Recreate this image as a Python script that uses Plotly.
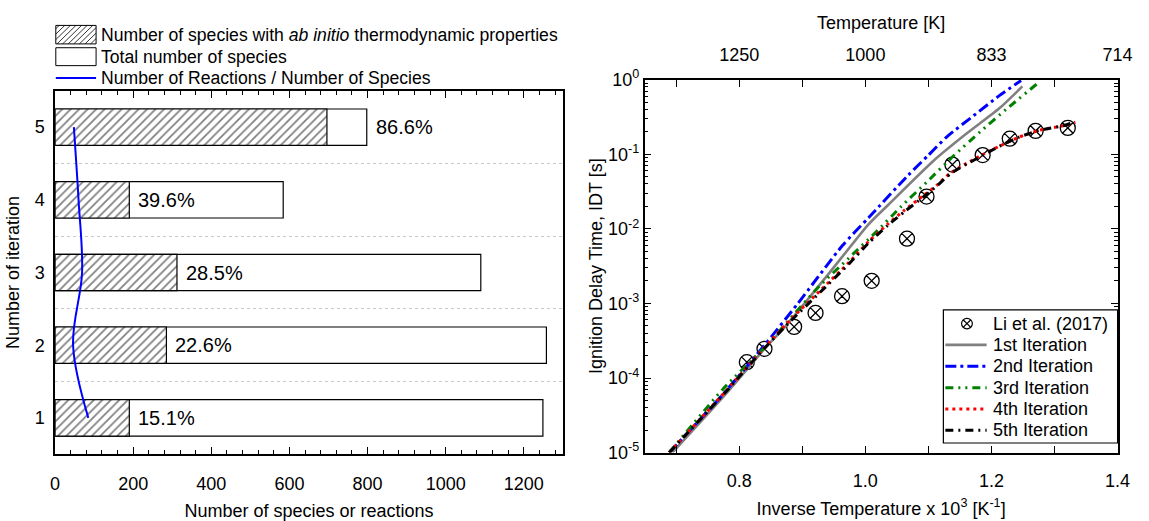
import math
import plotly.graph_objects as go

# ---------------- data: left panel ----------------
iterations = [1, 2, 3, 4, 5]
total_species = [1249, 1258, 1090, 584, 798]
abinitio_species = [190, 285, 312, 190, 696]
pct_labels = ["15.1%", "22.6%", "28.5%", "39.6%", "86.6%"]
reac_per_species = [85, 46, 69, 60, 48]

# ---------------- data: right panel ----------------
x_exp = [0.812, 0.840, 0.887, 0.921, 0.963, 1.010, 1.066, 1.097, 1.138, 1.186, 1.229, 1.270, 1.321]
idt_exp = [1.63e-4, 2.46e-4, 4.85e-4, 7.46e-4, 1.25e-3, 2.01e-3, 7.38e-3, 2.71e-2, 7.28e-2, 9.77e-2, 0.162, 0.206, 0.226]

x_it1 = [0.694, 0.777, 0.840, 0.875, 0.943, 1.005, 1.036, 1.109, 1.161, 1.213, 1.249]
idt_it1 = [1.00e-5, 5.89e-5, 2.45e-4, 5.13e-4, 2.57e-3, 1.15e-2, 2.09e-2, 8.32e-2, 0.191, 0.417, 0.813]

x_it2 = [0.689, 0.773, 0.840, 0.893, 0.964, 1.005, 1.068, 1.099, 1.130, 1.172, 1.213, 1.247]
idt_it2 = [1.00e-5, 5.89e-5, 2.75e-4, 1.00e-3, 6.03e-3, 1.41e-2, 5.25e-2, 9.55e-2, 0.174, 0.331, 0.617, 0.977]

x_it3 = [0.689, 0.774, 0.840, 0.927, 0.974, 1.016, 1.057, 1.099, 1.140, 1.182, 1.223, 1.273]
idt_it3 = [1.00e-5, 7.08e-5, 2.57e-4, 1.70e-3, 4.07e-3, 8.91e-3, 2.00e-2, 4.37e-2, 9.55e-2, 0.200, 0.398, 0.891]

x_it4 = [0.689, 0.776, 0.840, 0.881, 0.927, 0.974, 1.005, 1.036, 1.062, 1.091, 1.114, 1.135, 1.161, 1.187, 1.213, 1.244, 1.275, 1.317, 1.333]
idt_it4 = [1.00e-5, 6.31e-5, 2.57e-4, 6.03e-4, 1.45e-3, 3.55e-3, 6.76e-3, 1.17e-2, 1.78e-2, 2.75e-2, 3.89e-2, 5.62e-2, 7.59e-2, 0.100, 0.129, 0.170, 0.209, 0.245, 0.269]

x_it5 = [0.689, 0.776, 0.840, 0.881, 0.927, 0.974, 1.005, 1.036, 1.062, 1.091, 1.114, 1.135, 1.161, 1.187, 1.213, 1.244, 1.275, 1.317, 1.333]
idt_it5 = [1.00e-5, 6.17e-5, 2.51e-4, 5.75e-4, 1.38e-3, 3.39e-3, 6.46e-3, 1.12e-2, 1.70e-2, 2.63e-2, 3.80e-2, 5.50e-2, 7.41e-2, 9.77e-2, 0.129, 0.170, 0.209, 0.245, 0.275]

inv_T_ticks = [0.8, 1.0, 1.2, 1.4]
decades = [1e-5, 1e-4, 1e-3, 1e-2, 1e-1, 1e0]

W, H = 1149, 521
FONT = "Liberation Sans, Arial, sans-serif"

fig = go.Figure()

# ---- left panel bars ----
fig.add_trace(go.Bar(
    y=iterations, x=total_species, orientation="h", width=0.5,
    marker=dict(color="white", line=dict(color="black", width=1.2)),
    name="Total number of species", showlegend=False,
    xaxis="x", yaxis="y"))
fig.add_trace(go.Bar(
    y=iterations, x=abinitio_species, orientation="h", width=0.5,
    marker=dict(color="white", line=dict(color="black", width=1.2),
                pattern=dict(shape="/", fgcolor="black", bgcolor="white", size=6, solidity=0.28)),
    name="Number of species with ab initio thermodynamic properties", showlegend=False,
    xaxis="x", yaxis="y"))
fig.add_trace(go.Scatter(
    y=iterations, x=reac_per_species, mode="lines",
    line=dict(color="#0000ff", width=2, shape="spline", smoothing=1.0),
    name="Number of Reactions / Number of Species", showlegend=False,
    xaxis="x", yaxis="y"))

# percentage labels
for it, a, t, lab in zip(iterations, abinitio_species, total_species, pct_labels):
    xpos = a if (t - a) > 150 else t
    fig.add_annotation(x=xpos, y=it, xref="x", yref="y", text=lab, showarrow=False,
                       xanchor="left", yanchor="middle", xshift=7,
                       font=dict(size=20, color="black", family=FONT))

# ---- right panel ----
fig.add_trace(go.Scatter(
    x=x_exp, y=idt_exp, mode="markers", name="Li et al. (2017)", showlegend=False,
    marker=dict(symbol="circle-x-open", size=15, color="black", line=dict(width=1.3, color="black")),
    xaxis="x2", yaxis="y2"))
line_specs = [
    (x_it1, idt_it1, "1st Iteration", "#808080", "solid", 2.6),
    (x_it2, idt_it2, "2nd Iteration", "#0000ff", "11px,4px,3px,4px", 3),
    (x_it3, idt_it3, "3rd Iteration", "#008000", "8px,5px,2px,5px,2px,5px", 3),
    (x_it4, idt_it4, "4th Iteration", "#ff0000", "3px,4px", 3),
    (x_it5, idt_it5, "5th Iteration", "#000000", "8px,5px,2px,5px", 3),
]
for xs, ys, nm, col, dash, w in line_specs:
    fig.add_trace(go.Scatter(x=xs, y=ys, mode="lines", name=nm, showlegend=False,
                             line=dict(color=col, dash=dash, width=w, shape="spline", smoothing=0.6),
                             xaxis="x2", yaxis="y2"))

# invisible trace to anchor the top temperature axis
fig.add_trace(go.Scatter(x=x_exp, y=idt_exp, mode="markers", marker=dict(opacity=0),
                         showlegend=False, hoverinfo="skip", xaxis="x3", yaxis="y2"))

# ---- legends (drawn as decoration, in paper coordinates) ----
def px(xp):
    return xp / W

def py(yp):
    return 1 - yp / H

def hatch_path(x0, y0, x1, y1, step):
    segs = []
    c = x0 + y0 + step * 0.6
    while c < x1 + y1:
        pa = max(x0, c - y1)
        pb = min(x1, c - y0)
        segs.append(f"M{px(pa):.5f},{py(c - pa):.5f} L{px(pb):.5f},{py(c - pb):.5f}")
        c += step
    return " ".join(segs)

lx0, lx1 = 51.7, 92.7
shapes = [
    dict(type="rect", xref="paper", yref="paper", x0=px(lx0), x1=px(lx1), y0=py(33.3), y1=py(14),
         line=dict(color="black", width=1), fillcolor="white"),
    dict(type="path", xref="paper", yref="paper", path=hatch_path(lx0, 14, lx1, 33.3, 5.7),
         line=dict(color="black", width=0.8)),
    dict(type="rect", xref="paper", yref="paper", x0=px(lx0), x1=px(lx1), y0=py(56), y1=py(37.3),
         line=dict(color="black", width=1), fillcolor="white"),
    dict(type="line", xref="paper", yref="paper", x0=px(lx0), x1=px(lx1), y0=py(69), y1=py(69),
         line=dict(color="#0000ff", width=2)),
]
leg_texts = [("Number of species with <i>ab initio</i> thermodynamic properties", 23.7),
             ("Total number of species", 46.7),
             ("Number of Reactions / Number of Species", 69)]
for txt, yy in leg_texts:
    fig.add_annotation(x=px(96), y=py(yy), xref="paper", yref="paper", text=txt, showarrow=False,
                       xanchor="left", yanchor="middle", font=dict(size=17.6, color="black", family=FONT))

# right legend box
rb_x0, rb_x1, rb_y0, rb_y1 = 955, 1132.3, 311, 450
shapes.append(dict(type="rect", xref="paper", yref="paper", x0=px(rb_x0), x1=px(rb_x1),
                   y0=py(rb_y1), y1=py(rb_y0), line=dict(color="black", width=1.2), fillcolor="white",
                   layer="above"))
row_y = [325.3 + 22.3 * i for i in range(6)]
# marker sample (circle with cross)
mx, my, mr = 979, row_y[0], 5.5
shapes.append(dict(type="circle", xref="paper", yref="paper", x0=px(mx - mr), x1=px(mx + mr),
                   y0=py(my + mr), y1=py(my - mr), line=dict(color="black", width=1.2), layer="above"))
d = mr * 0.72
shapes.append(dict(type="path", xref="paper", yref="paper", layer="above",
                   path=f"M{px(mx - d):.5f},{py(my - d):.5f} L{px(mx + d):.5f},{py(my + d):.5f} "
                        f"M{px(mx - d):.5f},{py(my + d):.5f} L{px(mx + d):.5f},{py(my - d):.5f}",
                   line=dict(color="black", width=1.2)))
fig.add_annotation(x=px(1003), y=py(row_y[0]), xref="paper", yref="paper", text="Li et al. (2017)",
                   showarrow=False, xanchor="left", yanchor="middle",
                   font=dict(size=18, color="black", family=FONT))
for (xs, ys, nm, col, dash, w), yy in zip(line_specs, row_y[1:]):
    shapes.append(dict(type="line", xref="paper", yref="paper", layer="above",
                       x0=px(957), x1=px(999), y0=py(yy), y1=py(yy),
                       line=dict(color=col, dash=dash, width=w)))
    fig.add_annotation(x=px(1003), y=py(yy), xref="paper", yref="paper", text=nm,
                       showarrow=False, xanchor="left", yanchor="middle",
                       font=dict(size=18, color="black", family=FONT))

axis_common = dict(showline=True, linecolor="black", linewidth=1.6, showgrid=False, zeroline=False,
                   tickfont=dict(size=18, color="black", family=FONT),
                   title_font=dict(size=18, color="black", family=FONT))

fig.update_layout(
    width=W, height=H,
    margin=dict(l=0, r=0, t=0, b=0),
    paper_bgcolor="white", plot_bgcolor="white",
    font=dict(family=FONT, size=18, color="black"),
    barmode="overlay",
    shapes=shapes,
    showlegend=False,
    xaxis=dict(domain=[51 / W, 567.7 / W], anchor="y", range=[0, 1300], dtick=200, tick0=0,
               ticks="inside", ticklen=7, tickwidth=1.3, tickcolor="black", mirror="ticks",
               ticklabelstandoff=12,
               minor=dict(dtick=40, ticks="inside", ticklen=4, tickwidth=1.2, tickcolor="black"),
               title=dict(text="Number of species or reactions", standoff=12), **axis_common),
    yaxis=dict(domain=[py(461.7), py(82.3)], anchor="x", range=[0.5, 5.5],
               tickvals=iterations, ticks="", mirror=True, ticklabelstandoff=5,
               minor=dict(tickvals=[1.5, 2.5, 3.5, 4.5], showgrid=True, gridcolor="#c8c8c8",
                          griddash="dot", gridwidth=1, ticks=""),
               title=dict(text="Number of iteration", standoff=10), **axis_common),
    xaxis2=dict(domain=[651 / W, 1132.3 / W], anchor="y2", range=[0.65, 1.4],
                tickvals=inv_T_ticks, tickformat=".1f", ticklabelstandoff=11,
                ticks="inside", ticklen=7, tickwidth=1.3, tickcolor="black", mirror=True,
                minor=dict(dtick=0.1, tick0=0, ticks="inside", ticklen=7, tickwidth=1.3, tickcolor="black"),
                title=dict(text="Inverse Temperature x 10<sup>3</sup> [K<sup>-1</sup>]", standoff=12),
                **axis_common),
    xaxis3=dict(overlaying="x2", anchor="y2", side="top", range=[0.65, 1.4],
                tickvals=inv_T_ticks, ticktext=[f"{1000 / v:.0f}" for v in inv_T_ticks],
                ticks="inside", ticklen=7, tickwidth=1.3, tickcolor="black", ticklabelstandoff=10,
                minor=dict(dtick=0.1, tick0=0, ticks="inside", ticklen=7, tickwidth=1.3, tickcolor="black"),
                title=dict(text="Temperature [K]", standoff=10), **axis_common),
    yaxis2=dict(domain=[py(460), py(70.7)], anchor="x2", type="log", range=[-5, 0],
                tickvals=decades, ticktext=[f"10<sup>{int(round(math.log10(d)))}</sup>" for d in decades],
                ticks="inside", ticklen=7, tickwidth=1.3, tickcolor="black", mirror="ticks",
                minor=dict(tickvals=[k * d for d in decades[:-1] for k in range(2, 10)],
                           ticks="inside", ticklen=4, tickwidth=1.1, tickcolor="black"),
                title=dict(text="Ignition Delay Time, IDT [s]", standoff=1), **axis_common),
)

fig.write_html("out.html")
